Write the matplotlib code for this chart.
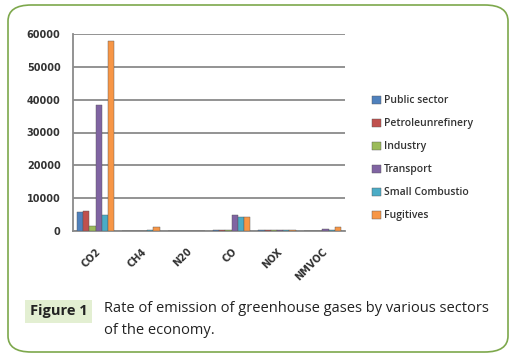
import matplotlib
matplotlib.use("Agg")
import matplotlib.pyplot as plt
import numpy as np
from matplotlib.patches import FancyBboxPatch, Rectangle

categories = ["CO2", "CH4", "N20", "CO", "NOX", "NMVOC"]
series_names = ["Public sector", "Petroleunrefinery", "Industry", "Transport",
                "Small Combustio", "Fugitives"]
public_sector = [5800, 150, 100, 200, 200, 150]
petroleum = [6200, 150, 100, 200, 200, 150]
industry = [1500, 150, 100, 200, 200, 150]
transport = [38500, 150, 100, 4900, 250, 700]
small_comb = [4800, 200, 100, 4400, 200, 200]
fugitives = [58000, 1200, 100, 4300, 200, 1200]
series = [public_sector, petroleum, industry, transport, small_comb, fugitives]
colors = ["#4F81BD", "#C0504D", "#9BBB59", "#8064A2", "#4BACC6", "#F79646"]
yticks = [0, 10000, 20000, 30000, 40000, 50000, 60000]

fig = plt.figure(figsize=(5.18, 3.57), dpi=100)
fig.patch.set_facecolor("white")

# rounded border
border = FancyBboxPatch((8/518, 5/357), 500/518, 347/357,
                        boxstyle="round,pad=0,rounding_size=0.045",
                        transform=fig.transFigure, facecolor="none",
                        edgecolor="#7DA84C", linewidth=1.2, zorder=5)
fig.patches.append(border)

ax = fig.add_axes([73/518, 1-231/357, 272/518, 197/357])
ax.set_facecolor("none")
x = np.arange(len(categories))
w = 0.137
for i, (vals, name, c) in enumerate(zip(series, series_names, colors)):
    ax.bar(x + (i - 2.5) * w, vals, width=w, color=c, edgecolor="#555555",
           linewidth=0.3, label=name, zorder=3)

ax.set_xlim(-0.5, len(categories) - 0.5)
ax.set_ylim(0, 60000)
ax.set_yticks(yticks)
ax.set_yticklabels([str(v) for v in yticks], fontsize=7, color="#333333",
                   fontweight="bold")
ax.set_xticks(x)
ax.set_xticklabels(categories, rotation=45, ha="right", rotation_mode="anchor",
                   fontsize=7, color="#333333", fontweight="bold")
ax.tick_params(axis="y", length=0, pad=9)
ax.tick_params(axis="x", length=0, pad=11)
ax.grid(axis="y", color="#8a8a8a", linewidth=1.3, zorder=0)
for s in ["top", "right"]:
    ax.spines[s].set_visible(False)
ax.spines["left"].set_color("#8a8a8a")
ax.spines["left"].set_linewidth(1.3)
ax.spines["bottom"].set_color("#8a8a8a")
ax.spines["bottom"].set_linewidth(1.3)

fig.legend(loc="upper left", bbox_to_anchor=(363/518, 1-86/357),
           frameon=False, handlelength=0.8, handleheight=0.8,
           handletextpad=0.3, labelspacing=1.15,
           prop={"size": 7.5, "family": "Open Sans", "weight": "semibold"},
           labelcolor="#333333")

# caption
fig.patches.append(Rectangle((25/518, 1-323/357), 67/518, 23/357,
                             transform=fig.transFigure, facecolor="#E3EFD2",
                             edgecolor="none"))
fig.text(58.5/518, 1-311.5/357, "Figure 1", fontsize=10.5, fontweight="bold",
         ha="center", va="center", family="Open Sans", color="#222222")
fig.text(104/518, 1-308/357, "Rate of emission of greenhouse gases by various sectors",
         fontsize=10.5, ha="left", va="center", family="Open Sans", color="#222222")
fig.text(104/518, 1-330/357, "of the economy.",
         fontsize=10.5, ha="left", va="center", family="Open Sans", color="#222222")

fig.savefig("out.png", dpi=100)
